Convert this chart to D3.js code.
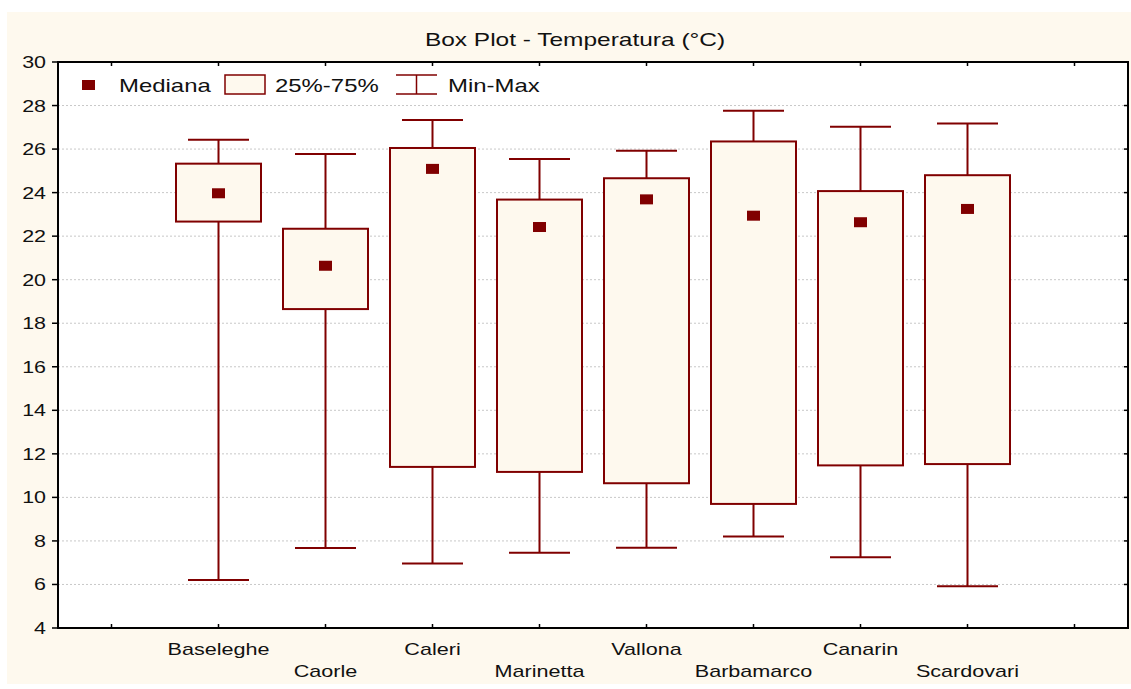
<!DOCTYPE html>
<html><head><meta charset="utf-8">
<script src="https://cdn.jsdelivr.net/npm/d3@7"></script>
<style>body{margin:0;background:#fff;}svg{display:block;font-family:"Liberation Sans",Arial,sans-serif;}</style>
</head><body><svg id="c" width="1131" height="689"></svg>
<script>
const categories = ["Baseleghe","Caorle","Caleri","Marinetta","Vallona","Barbamarco","Canarin","Scardovari"];
const maxVals = [26.43, 25.77, 27.33, 25.54, 25.92, 27.76, 27.03, 27.17];
const q3Vals  = [25.33, 22.34, 26.05, 23.68, 24.66, 26.35, 24.07, 24.80];
const medVals = [23.97, 20.64, 25.09, 22.42, 23.69, 22.94, 22.64, 23.25];
const q1Vals  = [22.67, 18.65, 11.40, 11.17, 10.65, 9.70, 11.47, 11.53];
const minVals = [6.20, 7.68, 6.96, 7.46, 7.69, 8.20, 7.25, 5.92];
const yTicks = [4,6,8,10,12,14,16,18,20,22,24,26,28,30];
const title = "Box Plot - Temperatura (°C)";
const legendLabels = ["Mediana","25%-75%","Min-Max"];

const dark = "#800000", cream = "#FEF9EE", ink = "#111";
const svg = d3.select("#c");
const L = 58, R = 1128, T = 62, B = 628;
svg.append("rect").attr("x",7).attr("y",12).attr("width",1124).attr("height",672).attr("fill",cream);
svg.append("rect").attr("x",L).attr("y",T).attr("width",R-L).attr("height",B-T).attr("fill","#fff");

const slots = ["_a", ...categories, "_b"];
const x = d3.scaleBand().domain(slots).range([L,R]).paddingInner(0).paddingOuter(0);
const cx = d => x(d) + x.bandwidth()/2;
const y = d3.scaleLinear().domain([4,30]).range([B,T]);

function stretched(sel, sx) {
  return sel.attr("transform", function(){ const t = this.__pos; return `translate(${t[0]},${t[1]}) scale(${sx},1)`; });
}

// grid
svg.append("g").selectAll("line").data(yTicks.filter(t=>t>4&&t<30)).join("line")
  .attr("x1",L).attr("x2",R).attr("y1",d=>y(d)).attr("y2",d=>y(d))
  .attr("stroke","#c8c8c8").attr("stroke-width",1).attr("stroke-dasharray","2,2");

// axes
svg.append("rect").attr("x",L).attr("y",T).attr("width",R-L).attr("height",B-T).attr("fill","none")
  .attr("stroke","#000").attr("stroke-width",2);
svg.append("g").selectAll("line").data(yTicks).join("line")
  .attr("x1",L-6).attr("x2",L).attr("y1",d=>y(d)).attr("y2",d=>y(d)).attr("stroke","#000").attr("stroke-width",1.5);
svg.append("g").selectAll("line").data(yTicks).join("line")
  .attr("x1",R-4).attr("x2",R).attr("y1",d=>y(d)).attr("y2",d=>y(d)).attr("stroke","#000").attr("stroke-width",1.5);
svg.append("g").selectAll("line").data(slots).join("line")
  .attr("x1",d=>cx(d)).attr("x2",d=>cx(d)).attr("y1",B).attr("y2",B-4).attr("stroke","#000").attr("stroke-width",1.5);
svg.append("g").selectAll("line").data(slots).join("line")
  .attr("x1",d=>cx(d)).attr("x2",d=>cx(d)).attr("y1",T).attr("y2",T+4).attr("stroke","#000").attr("stroke-width",1.5);

// y labels
svg.append("g").selectAll("text").data(yTicks).join("text")
  .each(function(d){ this.__pos = [L-12, y(d)+6]; })
  .attr("text-anchor","end").attr("font-size",16.5).attr("fill",ink).text(d=>d)
  .call(stretched, 1.3);

// x labels
svg.append("g").selectAll("text").data(categories).join("text")
  .each(function(d,i){ this.__pos = [cx(d), i%2===0 ? 655 : 677]; })
  .attr("text-anchor","middle").attr("font-size",17).attr("fill",ink).text(d=>d)
  .call(stretched, 1.27);

// title
svg.append("text").each(function(){ this.__pos = [575, 46]; })
  .attr("text-anchor","middle").attr("font-size",18).attr("fill",ink).text(title)
  .call(stretched, 1.36);

// boxes
const boxW = 85, capW = 61;
const data = categories.map((c,i)=>({c, max:maxVals[i], q3:q3Vals[i], med:medVals[i], q1:q1Vals[i], min:minVals[i]}));
const g = svg.append("g");
data.forEach(d=>{
  const xc = cx(d.c);
  g.append("line").attr("x1",xc).attr("x2",xc).attr("y1",y(d.max)).attr("y2",y(d.min)).attr("stroke",dark).attr("stroke-width",2);
  g.append("line").attr("x1",xc-capW/2).attr("x2",xc+capW/2).attr("y1",y(d.max)).attr("y2",y(d.max)).attr("stroke",dark).attr("stroke-width",2);
  g.append("line").attr("x1",xc-capW/2).attr("x2",xc+capW/2).attr("y1",y(d.min)).attr("y2",y(d.min)).attr("stroke",dark).attr("stroke-width",2);
  g.append("rect").attr("x",xc-boxW/2).attr("y",y(d.q3)).attr("width",boxW).attr("height",y(d.q1)-y(d.q3))
    .attr("fill",cream).attr("stroke",dark).attr("stroke-width",2);
  g.append("rect").attr("x",xc-6.5).attr("y",y(d.med)-5).attr("width",13).attr("height",10).attr("fill",dark);
});

// legend
const lg = svg.append("g");
lg.append("rect").attr("x",82).attr("y",80).attr("width",13).attr("height",10).attr("fill",dark);
lg.append("rect").attr("x",225).attr("y",75).attr("width",40).attr("height",19).attr("fill",cream).attr("stroke",dark).attr("stroke-width",1.5);
lg.append("line").attr("x1",396).attr("x2",437).attr("y1",75).attr("y2",75).attr("stroke",dark).attr("stroke-width",1.5);
lg.append("line").attr("x1",396).attr("x2",437).attr("y1",94).attr("y2",94).attr("stroke",dark).attr("stroke-width",1.5);
lg.append("line").attr("x1",416.5).attr("x2",416.5).attr("y1",75).attr("y2",94).attr("stroke",dark).attr("stroke-width",1.5);
const legX = [119, 275, 448];
lg.selectAll("text").data(legendLabels).join("text")
  .each(function(d,i){ this.__pos = [legX[i], 92]; })
  .attr("font-size",18).attr("fill",ink).text(d=>d)
  .call(stretched, 1.33);
</script></body></html>
